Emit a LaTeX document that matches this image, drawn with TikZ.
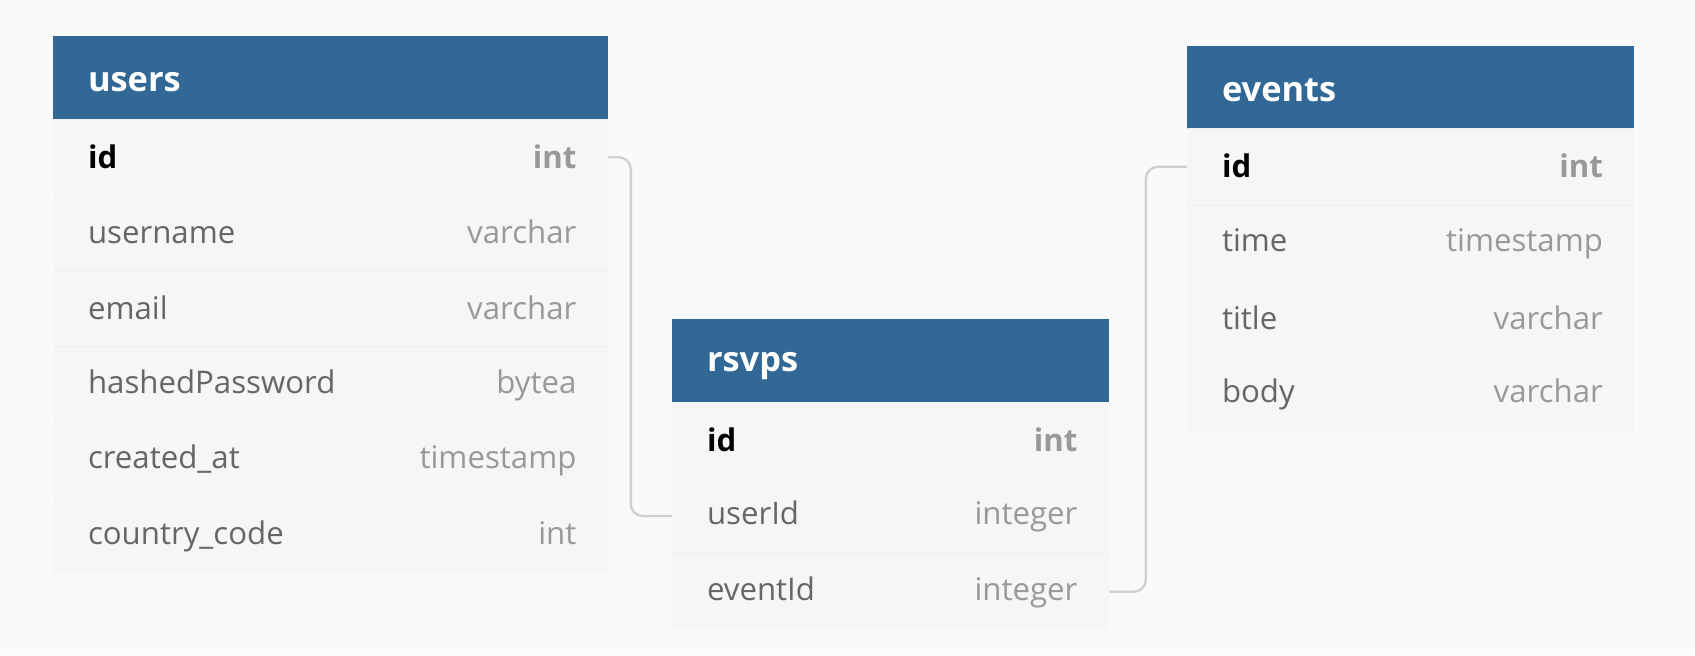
\documentclass[tikz,border=0pt]{standalone}
\usepackage{fontspec}
\setmainfont{Open Sans}
\usepackage{tikz}

\definecolor{bggray}{HTML}{FAFAFA}
\definecolor{headblue}{HTML}{316896}
\definecolor{rowgray}{HTML}{F6F6F6}
\definecolor{rowline}{HTML}{F2F2F2}
\definecolor{namegray}{HTML}{666666}
\definecolor{typegray}{HTML}{999999}
\definecolor{linkgray}{HTML}{D0D0D0}

\newcommand{\headfont}{\fontsize{17.2}{20}\selectfont\bfseries}
\newcommand{\rowfont}{\fontsize{15.6}{19}\selectfont}
\newcommand{\headstrut}{\rule[-0.6pt]{0pt}{15pt}}
\newcommand{\rowstrut}{\rule[-1.6pt]{0pt}{14pt}}
\newcommand{\headtext}[1]{\hbox to\hsize{\headstrut\hskip17.3pt #1\hfill}}
\newcommand{\keyrow}[2]{\hbox to\hsize{\rowstrut\hskip17.3pt\textbf{#1}\hfill\textcolor{typegray}{\textbf{#2}}\hskip15.75pt}}
\newcommand{\fieldrow}[2]{\hbox to\hsize{\rowstrut\hskip17.3pt\textcolor{namegray}{#1}\hfill\textcolor{typegray}{#2}\hskip15.75pt}}

\begin{document}
\begin{tikzpicture}[x=0.5pt, y=-0.5pt,
    tablehead/.style={anchor=north west, fill=headblue, text=white, font=\headfont,
        text width=#1, minimum height=41.5pt, inner sep=0pt},
    field/.style={anchor=north west, fill=rowgray, font=\rowfont,
        text width=#1, minimum height=37.875pt, inner sep=0pt,
        path picture={\draw [rowline, line width=1pt] (path picture bounding box.north west) -- (path picture bounding box.north east);}},
    link/.style={draw=linkgray, line width=1.2pt, rounded corners=6pt}]
        \fill [bggray] (0,0) rectangle (1695,655);

        % users
        \begin{scope}
            \node [tablehead=277.25pt] (users) at (53,36) {\headtext{users}};
            \node [field=277.25pt] (u1) at (53,119) {\keyrow{id}{int}};
            \node [field=277.25pt] (u2) at (53,194.75) {\fieldrow{username}{varchar}};
            \node [field=277.25pt] (u3) at (53,270.5) {\fieldrow{email}{varchar}};
            \node [field=277.25pt] (u4) at (53,346.25) {\fieldrow{hashedPassword}{bytea}};
            \node [field=277.25pt] (u5) at (53,422) {\fieldrow{created\_at}{timestamp}};
            \node [field=277.25pt] (u6) at (53,497.75) {\fieldrow{country\_code}{int}};
        \end{scope}

        % rsvps
        \begin{scope}
            \node [tablehead=218.25pt] (rsvps) at (672,319) {\headtext{rsvps}};
            \node [field=218.25pt] (r1) at (672,402) {\keyrow{id}{int}};
            \node [field=218.25pt] (r2) at (672,477.75) {\fieldrow{userId}{integer}};
            \node [field=218.25pt] (r3) at (672,553.5) {\fieldrow{eventId}{integer}};
        \end{scope}

        % events
        \begin{scope}
            \node [tablehead=223.5pt] (events) at (1187,45.5) {\headtext{events}};
            \node [field=223.5pt] (e1) at (1187,128.5) {\keyrow{id}{int}};
            \node [field=223.5pt] (e2) at (1187,204.25) {\fieldrow{time}{timestamp}};
            \node [field=223.5pt] (e3) at (1187,280) {\fieldrow{title}{varchar}};
            \node [field=223.5pt] (e4) at (1187,355.75) {\fieldrow{body}{varchar}};
        \end{scope}

        \draw [link] (u1.east) -- ++(22.5,0) |- (r2.west);
        \draw [link] (r3.east) -- ++(36.5,0) |- (e1.west);

    \end{tikzpicture}
\end{document}
